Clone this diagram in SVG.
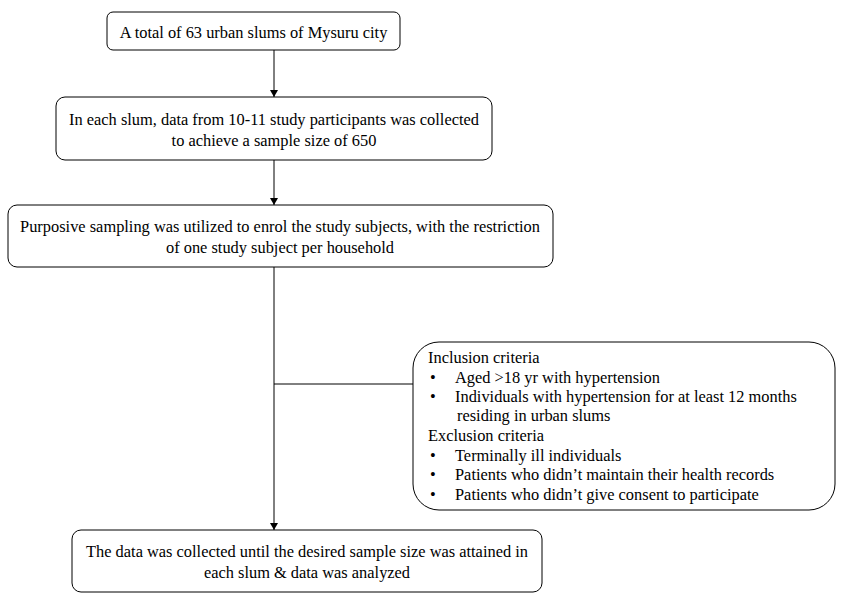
<svg xmlns="http://www.w3.org/2000/svg" width="845" height="600" viewBox="0 0 845 600">
<defs>
<marker id="ah" markerWidth="8" markerHeight="8" refX="7" refY="4" orient="auto" markerUnits="userSpaceOnUse">
<path d="M0,0 L7,4 L0,8 Z" fill="#000"/>
</marker>
<style>
.box{fill:#fff;stroke:#000;stroke-width:1}
.t{font-family:"Liberation Serif","Times New Roman",serif;font-size:16.4px;fill:#000}
.c{text-anchor:middle}
.ln{stroke:#000;stroke-width:1;fill:none}
</style>
</defs>
<rect width="845" height="600" fill="#fff"/>
<g id="connectors">
<line class="ln" x1="274" y1="50" x2="274" y2="97" marker-end="url(#ah)"/>
<line class="ln" x1="274" y1="160" x2="274" y2="205" marker-end="url(#ah)"/>
<line class="ln" x1="274" y1="267" x2="274" y2="530" marker-end="url(#ah)"/>
<line class="ln" x1="274" y1="384" x2="413" y2="384"/>
</g>
<g id="n1">
<rect class="box" x="107" y="12" width="293" height="38" rx="6"/>
<text class="t c" x="253.5" y="38">A total of 63 urban slums of Mysuru city</text>
</g>
<g id="n2">
<rect class="box" x="56" y="97" width="436" height="63" rx="9"/>
<text class="t c" x="274" y="125">In each slum, data from 10-11 study participants was collected</text>
<text class="t c" x="274" y="146">to achieve a sample size of 650</text>
</g>
<g id="n3">
<rect class="box" x="8" y="205" width="545" height="62" rx="9"/>
<text class="t c" x="280" y="232">Purposive sampling was utilized to enrol the study subjects, with the restriction</text>
<text class="t c" x="280" y="253">of one study subject per household</text>
</g>
<g id="n4">
<rect class="box" x="413" y="342" width="422" height="168" rx="26"/>
<text class="t" x="428" y="363">Inclusion criteria</text>
<text class="t" x="430" y="383">•</text>
<text class="t" x="455" y="383">Aged &gt;18 yr with hypertension</text>
<text class="t" x="430" y="402">•</text>
<text class="t" x="455" y="402">Individuals with hypertension for at least 12 months</text>
<text class="t" x="457" y="421">residing in urban slums</text>
<text class="t" x="428" y="441">Exclusion criteria</text>
<text class="t" x="430" y="461">•</text>
<text class="t" x="455" y="461">Terminally ill individuals</text>
<text class="t" x="430" y="480">•</text>
<text class="t" x="455" y="480">Patients who didn’t maintain their health records</text>
<text class="t" x="430" y="500">•</text>
<text class="t" x="455" y="500">Patients who didn’t give consent to participate</text>
</g>
<g id="n5">
<rect class="box" x="72" y="530" width="470" height="62" rx="9"/>
<text class="t c" x="307" y="557">The data was collected until the desired sample size was attained  in</text>
<text class="t c" x="307" y="578">each slum &amp; data was analyzed</text>
</g>
</svg>
